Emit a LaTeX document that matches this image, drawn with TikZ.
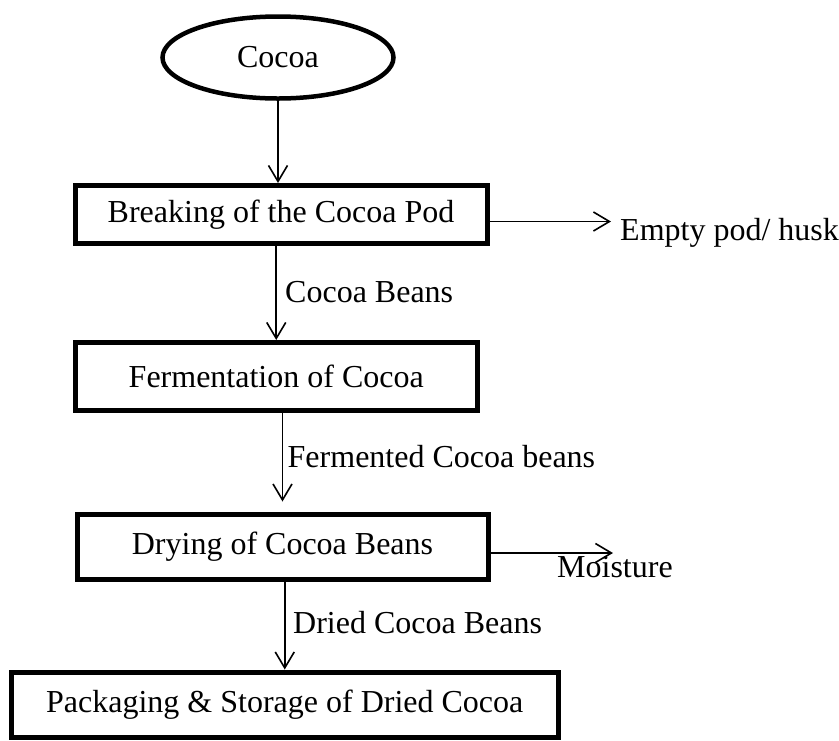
\documentclass[tikz,border=0pt]{standalone}
\usepackage{fontspec}
\setmainfont{Liberation Serif}
\usetikzlibrary{shapes.geometric,arrows.meta}

\tikzset{
    stage/.style={draw, line width=5pt, rectangle, inner sep=0pt, font=\fontsize{32}{38}\selectfont},
    flow/.style={line width=1.6pt, -{Straight Barb[length=16pt,width=19pt,line width=1.6pt]}},
    lbl/.style={font=\fontsize{32}{38}\selectfont, inner sep=0pt, anchor=base west}
}

\begin{document}
\begin{tikzpicture}[x=1pt, y=-1pt]
    
    \useasboundingbox (0,0) rectangle (839,740);
    
    % Process stages
    \node[stage, ellipse, line width=4.5pt, minimum width=231pt, minimum height=82pt] (cocoa) at (278,57.5) {Cocoa};
    \node[stage, minimum width=412pt, minimum height=57.5pt] (brk) at (281,214.25) {Breaking of the Cocoa Pod};
    \node[stage, minimum width=402.5pt, minimum height=68pt] (ferm) at (276.25,376.5) {Fermentation of Cocoa};
    \node[stage, minimum width=411pt, minimum height=65pt] (dry) at (282.5,546.5) {Drying of Cocoa Beans};
    \node[stage, minimum width=547.5pt, minimum height=65.5pt] (pack) at (284.75,704.75) {Packaging \& Storage of Dried Cocoa};
    
    % Main flow
    \draw[flow] (cocoa.south) -- (cocoa.south |- brk.north);
    \draw[flow] (ferm.north |- brk.south) -- (ferm.north);
    \draw[flow] (dry.north |- ferm.south) -- ([yshift=10pt]dry.north);
    \draw[flow] (pack.north |- dry.south) -- (pack.north);
    
    % Labels on the flow
    \node[lbl] (beans) at (285,302) {Cocoa Beans};
    \node[lbl] (fbeans) at (287.5,467) {Fermented Cocoa beans};
    \node[lbl] (dbeans) at (293,633) {Dried Cocoa Beans};
    
    % By-products
    \coordinate (huskend) at (611,221.5);
    \draw[flow] (brk.east |- huskend) -- (huskend);
    \node[lbl] (husk) at (620,240) {Empty pod/ husk};
    
    \coordinate (moistend) at (613,553);
    \draw[flow] (dry.east |- moistend) -- (moistend);
    \node[lbl] (moist) at (557,577) {Moisture};
    
\end{tikzpicture}
\end{document}
